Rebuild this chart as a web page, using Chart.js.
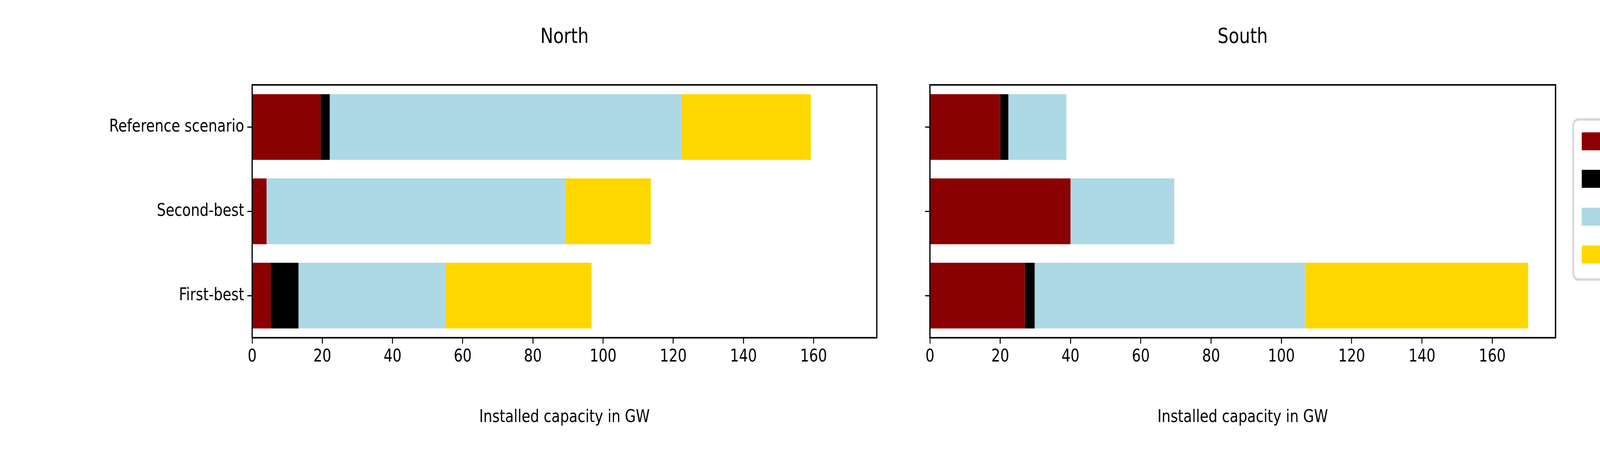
<!DOCTYPE html>
<html>
<head>
<meta charset="utf-8">
<script src="https://cdn.jsdelivr.net/npm/chart.js@4"></script>
<style>
  html, body { margin: 0; overflow: hidden; background: #fff; font-family: "DejaVu Sans", sans-serif; }
  #page { position: absolute; left: 0; top: 0; width: 5000px; height: 1150px; transform-origin: 0 0; }
  canvas { position: absolute; }
  .ttl { position: absolute; top: 60px; font-size: 54px; color: #000; text-align: center; }
  #legend { position: absolute; left: 4913px; top: 303px; width: 300px; height: 404px; border: 6px solid #d6d6d6; border-radius: 20px; background: #fff; }
  .sw { position: absolute; left: 24px; width: 200px; height: 46px; }
</style>
</head>
<body>
<div id="page">
<div class="ttl" style="left:788px;width:1952px">North</div>
<div class="ttl" style="left:2906px;width:1955px">South</div>
<canvas id="north" style="left:0;top:181px"></canvas>
<canvas id="south" style="left:2800px;top:181px"></canvas>
<div id="legend"></div>
</div>
<script>
const scenarios = ['Reference scenario', 'Second-best', 'First-best'];
const colors = ['#8b0000', '#000000', '#add8e6', '#ffd700'];

// segment widths per scenario (GW)
const northRed = [19.5, 4.1, 5.3];
const northBlack = [2.6, 0.0, 7.9];
const northBlue = [100.2, 85.1, 41.9];
const northYellow = [36.9, 24.4, 41.6];

const southRed = [20.0, 40.0, 27.0];
const southBlack = [2.3, 0.0, 2.8];
const southBlue = [16.5, 29.5, 76.9];
const southYellow = [0.0, 0.0, 63.5];

const X_MAX = 178;
const FONT = { family: 'DejaVu Sans', size: 44 };

// fit the 5000x1150 layout into whatever the viewport really is
const page = document.getElementById('page');
page.style.transform = `scale(${window.innerWidth / 5000}, ${window.innerHeight / 1150})`;

const frame = {
    id: 'frame',
    afterDraw(chart) {
        const { ctx, chartArea: a } = chart;
        ctx.save();
        ctx.strokeStyle = '#000';
        ctx.lineWidth = 4;
        ctx.strokeRect(a.left, a.top, a.right - a.left, a.bottom - a.top);
        ctx.restore();
    }
};

function makeChart(id, width, yWidth, showLabels, series) {
    const cv = document.getElementById(id);
    cv.width = width; cv.height = 919;
    cv.style.width = width + 'px'; cv.style.height = '919px';
    return new Chart(cv, {
        type: 'bar',
        data: {
            labels: scenarios,
            datasets: series.map((d, i) => ({
                data: d, backgroundColor: colors[i], borderWidth: 0,
                categoryPercentage: 0.78, barPercentage: 1
            }))
        },
        options: {
            indexAxis: 'y',
            responsive: false,
            animation: false,
            devicePixelRatio: 1,
            layout: { padding: { top: 10, right: 20, left: 0, bottom: 0 } },
            plugins: { legend: { display: false }, tooltip: { enabled: false } },
            scales: {
                x: {
                    stacked: true, min: 0, max: X_MAX,
                    afterBuildTicks: s => { s.ticks = s.ticks.filter(t => t.value % 20 === 0 && t.value <= 160); },
                    afterFit: s => { s.height = 235; },
                    ticks: { stepSize: 20, color: '#000', font: FONT, padding: 8, maxRotation: 0 },
                    grid: { drawOnChartArea: false, color: '#000', lineWidth: 3, tickLength: 15 },
                    border: { display: false },
                    title: { display: true, text: 'Installed capacity in GW', color: '#000', font: FONT, padding: { top: 14 } }
                },
                y: {
                    stacked: true,
                    afterFit: s => { s.width = yWidth; },
                    ticks: { color: '#000', font: FONT, padding: 10, callback: (v, i) => showLabels ? scenarios[i] : '' },
                    grid: { drawOnChartArea: false, offset: false, color: '#000', lineWidth: 3, tickLength: 15 },
                    border: { display: false }
                }
            }
        },
        plugins: [frame]
    });
}

makeChart('north', 2760, 788, true, [northRed, northBlack, northBlue, northYellow]);
makeChart('south', 2081, 106, false, [southRed, southBlack, southBlue, southYellow]);

const lg = document.getElementById('legend');
[30, 126, 223, 320].forEach((top, i) => {
    const s = document.createElement('div');
    s.className = 'sw';
    s.style.top = top + 'px';
    s.style.background = colors[i];
    lg.appendChild(s);
});
</script>
</body>
</html>
